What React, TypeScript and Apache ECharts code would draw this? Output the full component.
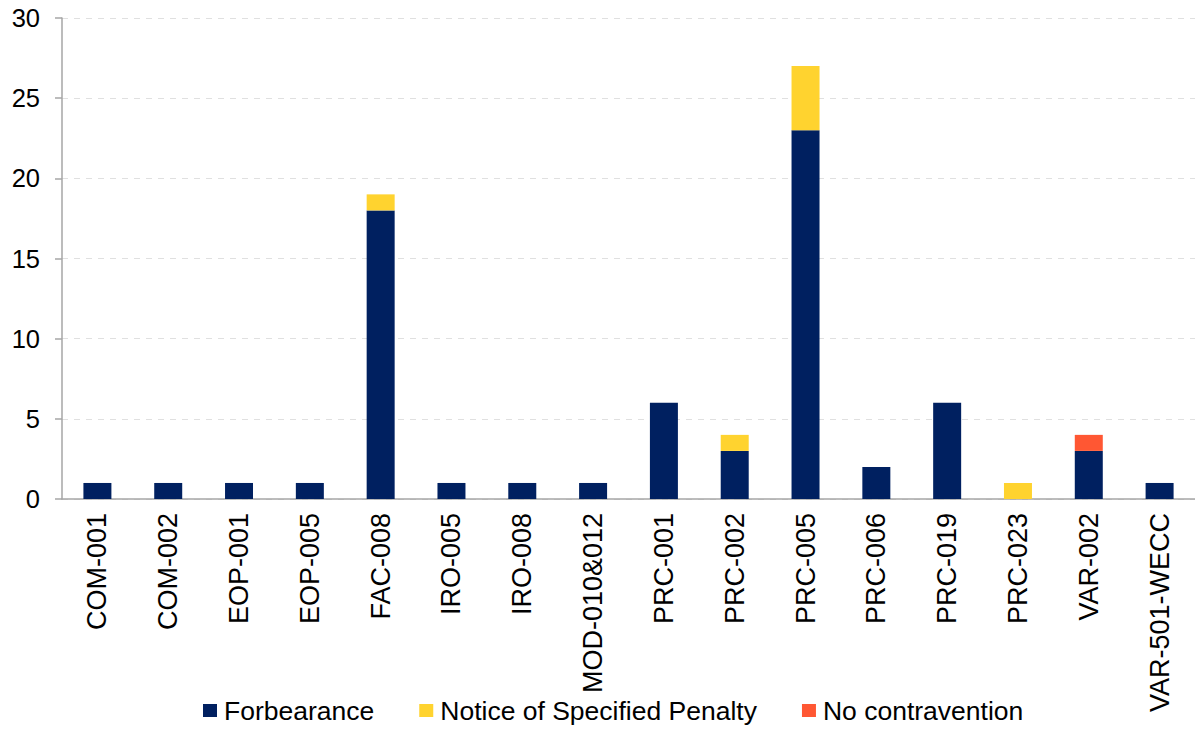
import React, { useEffect, useRef } from "react";
import * as echarts from "echarts";

const categories = [
  "COM-001", "COM-002", "EOP-001", "EOP-005", "FAC-008", "IRO-005", "IRO-008",
  "MOD-010&012", "PRC-001", "PRC-002", "PRC-005", "PRC-006", "PRC-019",
  "PRC-023", "VAR-002", "VAR-501-WECC",
];
const forbearance = [1, 1, 1, 1, 18, 1, 1, 1, 6, 3, 23, 2, 6, 0, 3, 1];
const noticeOfPenalty = [0, 0, 0, 0, 1, 0, 0, 0, 0, 1, 4, 0, 0, 1, 0, 0];
const noContravention = [0, 0, 0, 0, 0, 0, 0, 0, 0, 0, 0, 0, 0, 0, 1, 0];
const yTicks = { min: 0, max: 30, interval: 5 };

const FONT = "'Liberation Sans', Arial, sans-serif";

export default function App() {
  const ref = useRef<HTMLDivElement>(null);
  useEffect(() => {
    if (!ref.current) return;
    const chart = echarts.init(ref.current, undefined, { renderer: "svg" });
    const bar = (name: string, data: number[], color: string) => ({
      name,
      type: "bar",
      stack: "total",
      barWidth: 28,
      data: data.map((v) => (v === 0 ? null : v)),
      itemStyle: { color },
    });
    chart.setOption({
      animation: false,
      textStyle: { fontFamily: FONT },
      grid: { left: 62, right: 0, top: 18, bottom: 230 },
      legend: {
        bottom: 0,
        left: 198,
        itemWidth: 14,
        itemHeight: 13,
        itemGap: 45,
        icon: "rect",
        textStyle: { fontSize: 26.5, color: "#000", fontFamily: FONT, padding: [0, 0, 0, 2] },
      },
      xAxis: {
        type: "category",
        data: categories,
        axisLine: { lineStyle: { color: "#a6a6a6", width: 1.5 } },
        axisTick: { length: 8, lineStyle: { color: "#a6a6a6", width: 1.5 } },
        axisLabel: {
          rotate: 90,
          interval: 0,
          margin: 14,
          fontSize: 27,
          color: "#000",
          fontFamily: FONT,
        },
      },
      yAxis: {
        type: "value",
        ...yTicks,
        axisLine: { show: true, lineStyle: { color: "#a6a6a6", width: 1.5 } },
        axisTick: { show: true, length: 7, lineStyle: { color: "#a6a6a6", width: 1.5 } },
        axisLabel: { fontSize: 25.5, color: "#000", margin: 22, fontFamily: FONT },
        splitLine: { lineStyle: { color: "#e0e0e0", type: [6, 6], width: 1 } },
      },
      series: [
        bar("Forbearance", forbearance, "#002060"),
        bar("Notice of Specified Penalty", noticeOfPenalty, "#FFD32F"),
        bar("No contravention", noContravention, "#FF5733"),
      ],
    });
    return () => chart.dispose();
  }, []);
  return (
    <div
      ref={ref}
      style={{ position: "fixed", left: 0, top: 0, width: 1195, height: 729, background: "#fff" }}
    />
  );
}
